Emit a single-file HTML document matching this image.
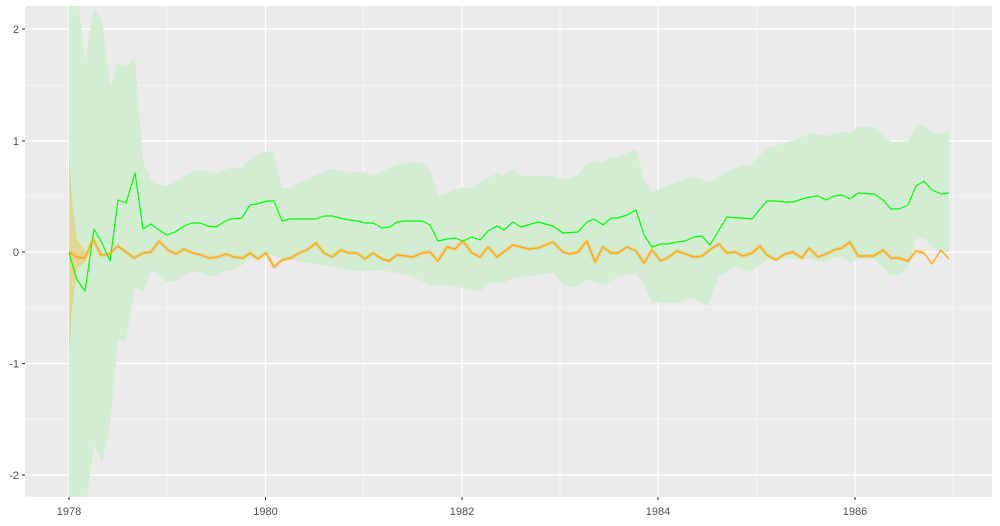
<!DOCTYPE html>
<html><head><meta charset="utf-8"><style>
html,body{margin:0;padding:0;background:#fff;width:1000px;height:526px;overflow:hidden;}
svg{display:block;font-family:"Liberation Sans",sans-serif;overflow:hidden;}
</style></head><body>
<svg width="1000" height="526" viewBox="0 0 1000 526" xmlns="http://www.w3.org/2000/svg">
<rect x="25" y="6" width="967" height="491" fill="#ebebeb"/>
<g stroke="#fff" stroke-width="0.6">
<line x1="25" x2="992" y1="85.5" y2="85.5"/><line x1="25" x2="992" y1="196.5" y2="196.5"/>
<line x1="25" x2="992" y1="307.5" y2="307.5"/><line x1="25" x2="992" y1="419" y2="419"/>
<line y1="6" y2="497" x1="167" x2="167"/><line y1="6" y2="497" x1="363.5" x2="363.5"/>
<line y1="6" y2="497" x1="560" x2="560"/><line y1="6" y2="497" x1="756.5" x2="756.5"/>
<line y1="6" y2="497" x1="953" x2="953"/>
</g>
<g stroke="#fff" stroke-width="1.2">
<line x1="25" x2="992" y1="29" y2="29"/><line x1="25" x2="992" y1="141" y2="141"/>
<line x1="25" x2="992" y1="252" y2="252"/><line x1="25" x2="992" y1="363.5" y2="363.5"/>
<line x1="25" x2="992" y1="475" y2="475"/>
<line y1="6" y2="497" x1="69" x2="69"/><line y1="6" y2="497" x1="265.5" x2="265.5"/>
<line y1="6" y2="497" x1="462" x2="462"/><line y1="6" y2="497" x1="658" x2="658"/>
<line y1="6" y2="497" x1="855" x2="855"/>
</g>
<g>
<polygon fill="#d3edd3" points="69,6 79,6 85,62 94,8 102,20 110,88 118,63 126,66 135,58 143,161 151,180 159,185 167,186 175,182 184,176 192,172 200,170 208,172 216,173 224,170 233,167 241,168 249,160 257,155 265,152 273,151 282,188 290,188 298,183 306,180 314,176 322,172 331,169 339,170 347,173 355,172 363,172 372,176 380,173 388,168 397,165 405,163 413,162 422,163 430,170 438,196 447,193 455,189 463,187 472,189 480,182 490,177 497,173 504,176 513,168 521,176 553,176 563,180 578,175 587,165 594,160 603,163 611,157 618,157 627,153 636,149 644,180 652,192 661,188 677,182 694,176 710,183 727,171 743,165 750,165 767,148 785,143 802,137 810,133 826,136 842,132 850,133 858,127 874,127 891,142 908,141 916,127 924,125 932,133 941,134 949,132 949,252 941,252 932,247 924,238 916,239 908,267 899,275 891,275 883,267 874,259 858,259 850,263 842,257 834,257 826,263 810,259 785,259 767,260 750,272 735,267 718,277 708,306 693,298 677,303 652,302 644,285 636,273 618,277 603,285 587,279 578,287 563,285 553,273 513,278 504,283 490,283 480,291 463,288 447,285 430,285 413,277 397,273 380,270 363,271 347,270 331,266 314,264 298,261 290,259 282,258 273,255 265,255 257,258 249,259 241,266 233,270 224,271 216,277 208,276 200,272 192,272 184,276 175,282 167,282 159,275 151,270 143,292 135,287 126,341 118,340 110,425 102,462 94,445 87,497 69,497"/>
<polygon fill="#ffa500" fill-opacity="0.3" points="69,152 72,200 77,240 85,250 85,262 77,268 72,310 69,358"/>
<polyline fill="none" stroke="#ffa500" stroke-opacity="0.25" stroke-width="4" stroke-linejoin="round" points="69,252 77,257 85,258 93,239 101,255 109,254 118,246 126,252 134,258 143,253 151,252 159,241 168,250 176,254 184,249 193,253 201,255 209,258 218,257 226,254 234,257 243,258 250,253 258,259 266,253 274,267 282,260 291,258 299,253 307,250 316,243 324,253 332,257 341,250 349,253 357,253 365,259 373,253 382,259 389,261 397,255 413,257 422,253 430,252 438,261 447,247 455,249 463,241 472,253 480,257 488,247 497,257 513,245 529,249 538,248 553,242 563,252 570,254 578,252 587,241 595,262 603,247 611,253 618,253 627,247 636,251 644,263 652,250 661,261 669,257 677,251 694,257 702,256 711,249 719,244 727,253 735,252 743,256 752,253 760,246 767,255 776,260 785,254 793,252 802,258 809,248 818,257 826,254 834,250 842,248 850,242 858,256 874,256 883,250 891,258 899,258 908,261 916,251 924,253"/>
<polyline fill="none" stroke="#00ff00" stroke-width="1.2" stroke-linejoin="round" points="69,253 77,280 85,291 94,229 102,243 110,261 118,200 126,203 135,173 143,229 151,224 159,230 167,235 175,232 184,226 192,223 200,223 208,226 216,227 224,222 230,219 242,218 250,205 257,204 267,201 274,201 282,221 290,219 316,219 324,216 332,216 340,218 349,220 358,221 365,223 373,223 382,228 390,227 397,222 405,221 422,221 430,225 438,241 447,239 455,238 463,241 472,237 480,240 488,231 497,226 504,230 513,222 521,227 538,222 553,226 563,233 578,232 587,222 594,219 603,225 611,218 618,218 627,215 636,210 644,235 652,247 661,244 668,244 677,242 685,241 694,237 702,236 710,245 727,217 752,219 760,209 767,201 776,201 785,202 793,202 802,199 810,197 818,196 826,200 834,196 842,195 850,199 858,193 874,194 883,200 891,209 899,209 908,205 916,186 924,181 932,190 941,194 949,193"/>
<polyline fill="none" stroke="#ffa500" stroke-width="1.2" stroke-linejoin="round" points="69,252 77,257 85,258 93,239 101,255 109,254 118,246 126,252 134,258 143,253 151,252 159,241 168,250 176,254 184,249 193,253 201,255 209,258 218,257 226,254 234,257 243,258 250,253 258,259 266,253 274,267 282,260 291,258 299,253 307,250 316,243 324,253 332,257 341,250 349,253 357,253 365,259 373,253 382,259 389,261 397,255 413,257 422,253 430,252 438,261 447,247 455,249 463,241 472,253 480,257 488,247 497,257 513,245 529,249 538,248 553,242 563,252 570,254 578,252 587,241 595,262 603,247 611,253 618,253 627,247 636,251 644,263 652,250 661,261 669,257 677,251 694,257 702,256 711,249 719,244 727,253 735,252 743,256 752,253 760,246 767,255 776,260 785,254 793,252 802,258 809,248 818,257 826,254 834,250 842,248 850,242 858,256 874,256 883,250 891,258 899,258 908,261 916,251 924,253 932,264 941,250 949,259"/>
</g>
<g stroke="#333" stroke-width="1.1">
<line x1="22" x2="25" y1="29" y2="29"/><line x1="22" x2="25" y1="141" y2="141"/><line x1="22" x2="25" y1="252" y2="252"/><line x1="22" x2="25" y1="363.5" y2="363.5"/><line x1="22" x2="25" y1="475" y2="475"/>
<line y1="497" y2="500" x1="69" x2="69"/><line y1="497" y2="500" x1="265.5" x2="265.5"/><line y1="497" y2="500" x1="462" x2="462"/><line y1="497" y2="500" x1="658" x2="658"/><line y1="497" y2="500" x1="855" x2="855"/>
</g>
<g fill="#4d4d4d" font-size="11" text-anchor="end">
<text x="19" y="33">2</text><text x="19" y="145">1</text><text x="19" y="256">0</text><text x="19" y="367.5">-1</text><text x="19" y="479">-2</text>
</g>
<g fill="#4d4d4d" font-size="11" text-anchor="middle">
<text x="69" y="515">1978</text><text x="265.5" y="515">1980</text><text x="462" y="515">1982</text><text x="658" y="515">1984</text><text x="855" y="515">1986</text>
</g>
</svg>
</body></html>
